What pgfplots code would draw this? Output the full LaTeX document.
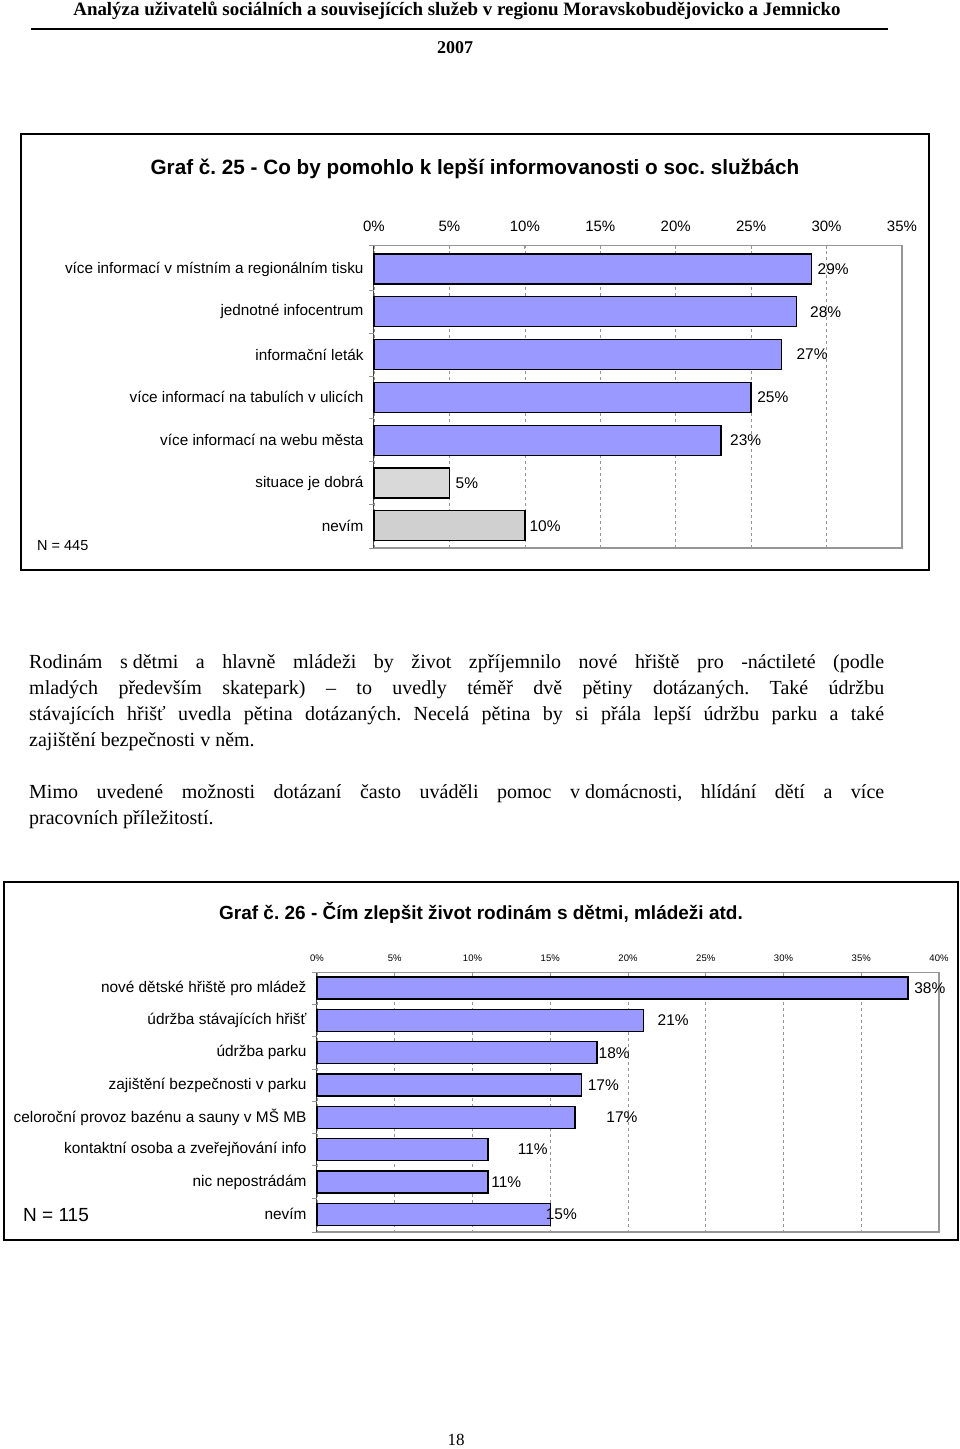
\documentclass[border=0pt]{standalone}
\usepackage{fontspec}
\setmainfont{Liberation Serif}
\newfontfamily\arial{Liberation Sans}
\usepackage{pgfplots}
\pgfplotsset{compat=1.18}
\usepackage{pgfplotstable}

\definecolor{barblue}{RGB}{153,153,255}
\definecolor{bargray}{RGB}{217,217,217}
\definecolor{bargrayb}{RGB}{208,208,208}
\definecolor{axgray}{RGB}{150,150,150}

% Graf 25
\pgfplotstableread{
idx val lx
0 29 29.4
1 28 28.9
2 27 28.0
3 25 25.4
4 23 23.6
}\gA
\pgfplotstableread{
idx val lx
5 5 5.4
}\gB
\pgfplotstableread{
idx val lx
6 10 10.3
}\gC
% Graf 26
\pgfplotstableread{
idx val lx
0 38 38.4
1 21 21.9
2 18 18.1
3 17 17.4
4 16.6 18.6
5 11 12.9
6 11 11.2
7 15 14.7
}\gD

\pgfplotsset{
  lab/.style={draw=none, mark=none, point meta=explicit,
    nodes near coords={\pgfmathprintnumber[fixed,precision=0]{\pgfplotspointmeta}\%},
    nodes near coords style={anchor=west, inner sep=0pt, font=#1}},
}

\begin{document}
\frenchspacing
\begin{tikzpicture}
\path[use as bounding box] (0pt,0pt) rectangle (960pt,-1449pt);

% header
\node[font=\bfseries\fontsize{18.9}{20}\selectfont] at (457pt,-11pt) {Analýza uživatelů sociálních a souvisejících služeb v regionu Moravskobudějovicko a Jemnicko};
\draw[line width=2pt] (31pt,-29pt) -- (888pt,-29pt);
\node[font=\bfseries\fontsize{18}{20}\selectfont] at (455pt,-48pt) {2007};

% chart 1 frame
\draw[line width=1.6pt] (21pt,-134pt) rectangle (929pt,-570pt);
\node[font=\arial\bfseries\fontsize{20.7}{24}\selectfont] at (475pt,-169pt) {Graf č. 25 - Co by pomohlo k lepší informovanosti o soc. službách};
\node[font=\arial\fontsize{14.5}{16}\selectfont, anchor=west, inner sep=0pt] at (37pt,-546pt) {N = 445};

\begin{axis}[
  at={(374pt,-245pt)}, anchor=north west,
  scale only axis, width=528pt, height=303pt,
  xmin=0, xmax=35, ymin=-0.56, ymax=6.52, y dir=reverse,
  axis x line*=top, axis y line*=left,
  x axis line style={axgray, line width=0.8pt, -},
  y axis line style={black!75, line width=1pt, -},
  xtick={0,5,...,35},
  xticklabel={\pgfmathprintnumber{\tick}\%},
  /pgf/number format/assume math mode=true,
  xticklabel style={font=\arial\fontsize{15}{17}\selectfont, yshift=10pt},
  xtick style={axgray, line width=0.8pt},
  major tick length=4pt,
  ytick={0,...,6},
  yticklabels={více informací v místním a regionálním tisku, jednotné infocentrum, informační leták, více informací na tabulích v ulicích, více informací na webu města, situace je dobrá, nevím},
  yticklabel style={font=\arial\fontsize{15.3}{17}\selectfont, xshift=-7pt},
  ytick style={draw=none},
  xmajorgrids, grid style={dashed, axgray, line width=0.7pt},
  clip=false,
]
\draw[axgray, line width=1.5pt] (axis cs:35,-0.56) -- (axis cs:35,6.52) -- (axis cs:0,6.52);
\pgfplotsinvokeforeach{-0.56,0.5,1.5,2.5,3.5,4.5,5.5,6.52}{\draw[axgray, line width=0.8pt] (axis cs:0,#1) -- ++(-5pt,0pt);}
\addplot[xbar, bar width=30pt, bar shift=0pt, fill=barblue, draw=black, line width=1.3pt] table[x=val,y=idx]{\gA};
\addplot[xbar, bar width=30pt, bar shift=0pt, fill=bargray, draw=black, line width=1.3pt] table[x=val,y=idx]{\gB};
\addplot[xbar, bar width=30pt, bar shift=0pt, fill=bargrayb, draw=black, line width=1.3pt] table[x=val,y=idx]{\gC};
\addplot[lab={\arial\fontsize{15.5}{17}\selectfont}] table[x=lx,y=idx,meta=val]{\gA};
\addplot[lab={\arial\fontsize{15.5}{17}\selectfont}] table[x=lx,y=idx,meta=val]{\gB};
\addplot[lab={\arial\fontsize{15.5}{17}\selectfont}] table[x=lx,y=idx,meta=val]{\gC};
\end{axis}

% body text
\node[anchor=north west, inner sep=0pt] at (29pt,-654pt) {\parbox{855pt}{\fontsize{20}{26}\selectfont
Rodinám \mbox{s dětmi} a hlavně mládeži by život zpříjemnilo nové hřiště pro -náctileté (podle\linebreak
mladých především skatepark) – to uvedly téměř dvě pětiny dotázaných. Také údržbu\linebreak
stávajících hřišť uvedla pětina dotázaných. Necelá pětina by si přála lepší údržbu parku a také\linebreak
zajištění bezpečnosti \mbox{v něm}.}};
\node[anchor=north west, inner sep=0pt] at (29pt,-784pt) {\parbox{855pt}{\fontsize{20}{26}\selectfont
Mimo uvedené možnosti dotázaní často uváděli pomoc \mbox{v domácnosti}, hlídání dětí a více\linebreak
pracovních příležitostí.}};

% chart 2 frame
\draw[line width=1.6pt] (4pt,-882pt) rectangle (958pt,-1240pt);
\node[font=\arial\bfseries\fontsize{19}{22}\selectfont] at (481pt,-913pt) {Graf č. 26 - Čím zlepšit život rodinám s dětmi, mládeži atd.};
\node[font=\arial\fontsize{19}{22}\selectfont, anchor=west, inner sep=0pt] at (23pt,-1215pt) {N = 115};

\begin{axis}[
  at={(317pt,-972pt)}, anchor=north west,
  scale only axis, width=622pt, height=260pt,
  xmin=0, xmax=40, ymin=-0.5, ymax=7.55, y dir=reverse,
  axis x line*=top, axis y line*=left,
  x axis line style={axgray, line width=0.8pt, -},
  y axis line style={black!75, line width=1pt, -},
  xtick={0,5,...,40},
  xticklabel={\pgfmathprintnumber{\tick}\%},
  /pgf/number format/assume math mode=true,
  xticklabel style={font=\arial\fontsize{9.5}{11}\selectfont, yshift=7pt},
  xtick style={axgray, line width=0.8pt},
  major tick length=4pt,
  ytick={0,...,7},
  yticklabels={nové dětské hřiště pro mládež, údržba stávajících hřišť, údržba parku, zajištění bezpečnosti v parku, celoroční provoz bazénu a sauny v MŠ MB, kontaktní osoba a zveřejňování info, nic nepostrádám, nevím},
  yticklabel style={font=\arial\fontsize{15.4}{17}\selectfont, xshift=-7pt},
  ytick style={draw=none},
  xmajorgrids, grid style={dashed, axgray, line width=0.7pt},
  clip=false,
]
\draw[axgray, line width=1.5pt] (axis cs:40,-0.5) -- (axis cs:40,7.55) -- (axis cs:0,7.55);
\pgfplotsinvokeforeach{-0.5,0.5,1.5,2.5,3.5,4.5,5.5,6.5,7.55}{\draw[axgray, line width=0.8pt] (axis cs:0,#1) -- ++(-5pt,0pt);}
\addplot[xbar, bar width=22pt, bar shift=0pt, fill=barblue, draw=black, line width=1.4pt] table[x=val,y=idx]{\gD};
\addplot[lab={\arial\fontsize{15.5}{17}\selectfont}] table[x=lx,y=idx,meta=val]{\gD};
\end{axis}

% page number
\node[font=\fontsize{17}{19}\selectfont] at (456pt,-1440pt) {18};
\end{tikzpicture}
\end{document}
